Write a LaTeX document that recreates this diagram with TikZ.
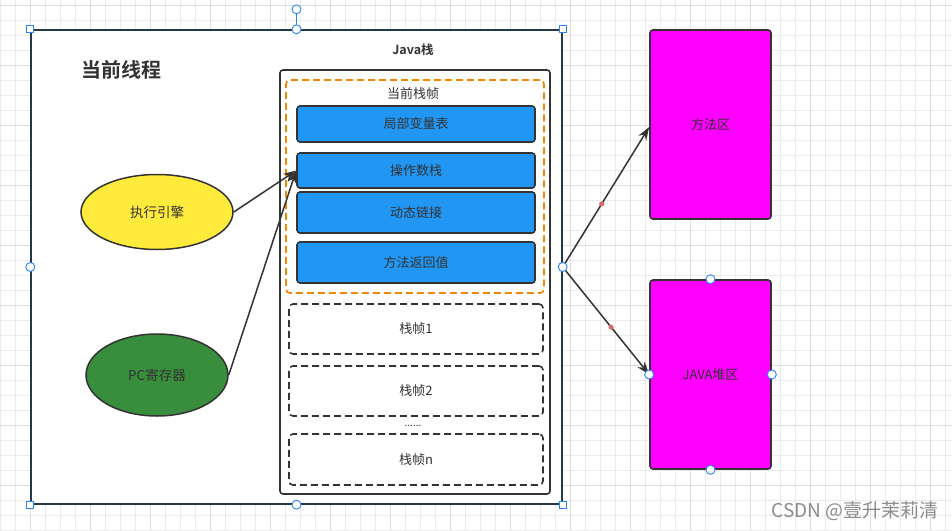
\documentclass[tikz,border=0pt]{standalone}
\usepackage{fontspec}
\setmainfont{Noto Sans CJK SC}[BoldFont={Noto Sans CJK SC Bold}]
\usetikzlibrary{shapes.geometric,arrows.meta}
\definecolor{strk}{HTML}{333333}
\definecolor{gridc}{HTML}{EBEBEB}
\definecolor{gridm}{HTML}{DEDEDE}
\definecolor{navy}{HTML}{23384F}
\definecolor{orangec}{HTML}{F08705}
\definecolor{bluebox}{HTML}{2196F3}
\definecolor{yellowc}{HTML}{FFEB3B}
\definecolor{greenc}{HTML}{388E3C}
\definecolor{magentac}{HTML}{FF00FF}
\definecolor{handle}{HTML}{2A84F5}
\definecolor{dotred}{HTML}{E06666}
\tikzset{
  lbl/.style={text=strk, font=\fontsize{13}{15}\selectfont, inner sep=0pt},
  solidbox/.style={draw=strk, line width=1.6pt, rounded corners=3pt, inner sep=0pt, lbl},
  bluestep/.style={solidbox, fill=bluebox, minimum width=238pt},
  dashbox/.style={draw=strk, line width=1.6pt, dash pattern=on 7pt off 4pt, rounded corners=4pt, inner sep=0pt, minimum width=254pt, lbl},
  oval/.style={ellipse, draw=strk, line width=1.5pt, inner sep=0pt, lbl, font=\fontsize{13.5}{15}\selectfont},
  areabox/.style={solidbox, fill=magentac, minimum width=121pt, minimum height=189pt},
  conn/.style={draw=strk, line width=1.5pt, -{Stealth[length=13pt,width=9pt]}},
  hsq/.style={draw=handle, fill=white, line width=0.9pt, minimum size=7pt, inner sep=0pt, rectangle},
  hci/.style={draw=handle, fill=white, line width=0.9pt, minimum size=9pt, inner sep=0pt, circle},
  rdot/.style={fill=dotred, circle, minimum size=5pt, inner sep=0pt}
}
\begin{document}
\begin{tikzpicture}[x=1pt,y=-1pt]
\useasboundingbox (0,0) rectangle (952,530);
\fill[white] (0,0) rectangle (952,530);
% grid background
\foreach \x in {0,15,...,945} \draw[gridc, line width=0.7pt] (\x,0) -- (\x,530);
\foreach \y in {5,20,...,530} \draw[gridc, line width=0.7pt] (0,\y) -- (952,\y);
\foreach \x in {30,90,...,930} \draw[gridm, line width=0.7pt] (\x,0) -- (\x,530);
\foreach \y in {5,65,...,530} \draw[gridm, line width=0.7pt] (0,\y) -- (952,\y);

% current thread container
\node[draw=navy, fill=white, line width=1.4pt, minimum width=531pt, minimum height=474pt, inner sep=0pt] (thread) at (296.5,267) {};
\node[text=strk, font=\fontsize{20}{22}\selectfont\bfseries, inner sep=0pt] (threadlbl) at (121,70) {当前线程};

% Java stack
\node[text=strk, font=\fontsize{12.5}{14}\selectfont\bfseries, inner sep=0pt] (jslbl) at (413,50) {Java栈};
\node[draw=strk, line width=1.6pt, rounded corners=3pt, minimum width=270pt, minimum height=424pt, inner sep=0pt] (jstack) at (415,282) {};
\node[draw=orangec, line width=1.7pt, dash pattern=on 7pt off 4pt, rounded corners=4pt, minimum width=258pt, minimum height=213pt, inner sep=0pt] (curframe) at (415,186.5) {};
\node[lbl] (curlbl) at (413,94) {当前栈帧};
\node[bluestep, minimum height=36pt] (lv) at (416,124) {局部变量表};
\node[bluestep, minimum height=35pt] (ops) at (416,170.5) {操作数栈};
\node[bluestep, minimum height=41pt] (dyn) at (416,212.5) {动态链接};
\node[bluestep, minimum height=41pt] (ret) at (416,262.5) {方法返回值};
\node[dashbox, minimum height=50pt] (f1) at (416,329) {栈帧1};
\node[dashbox, minimum height=50pt] (f2) at (416,391) {栈帧2};
\node[lbl, font=\fontsize{10}{11}\selectfont] (dots) at (413,426) {......};
\node[dashbox, minimum height=51pt] (fn) at (416,459.5) {栈帧n};

% engine and PC register
\node[oval, fill=yellowc, minimum width=152pt, minimum height=75pt] (engine) at (157,212) {执行引擎};
\node[oval, fill=greenc, minimum width=142pt, minimum height=82pt] (pc) at (157,375) {PC寄存器};
\draw[conn] (engine.east) -- (ops.west);
\draw[conn] (pc.east) -- (ops.west);

% method area and heap
\node[areabox] (method) at (710.5,124.5) {方法区};
\node[areabox] (heap) at (710.5,374.5) {JAVA堆区};
\draw[conn] (thread.east) -- node[rdot, pos=0.45] (m1) {} ([yshift=-2.5pt]method.west);
\draw[conn] (thread.east) -- node[rdot, pos=0.56] (m2) {} (heap.west);

% selection handles
\draw[handle, line width=0.9pt] (thread.north) -- ++(0,-20) coordinate (rot);
\node[hci] (hrot) at (rot) {};
\node[hsq] (h1) at (thread.north west) {};
\node[hsq] (h2) at (thread.north east) {};
\node[hsq] (h3) at (thread.south west) {};
\node[hsq] (h4) at (thread.south east) {};
\node[hci] (h5) at (thread.north) {};
\node[hci] (h6) at (thread.south) {};
\node[hci] (h7) at (thread.west) {};
\node[hci] (h8) at (thread.east) {};
\node[hci] (h9) at (heap.north) {};
\node[hci] (h10) at (heap.south) {};
\node[hci] (h11) at (heap.west) {};
\node[hci] (h12) at (heap.east) {};

% watermark
\node[text=black!45, font=\fontsize{19}{21}\selectfont, inner sep=0pt, anchor=east] (wm) at (939,511) {CSDN @壹升茉莉清};
\end{tikzpicture}
\end{document}
